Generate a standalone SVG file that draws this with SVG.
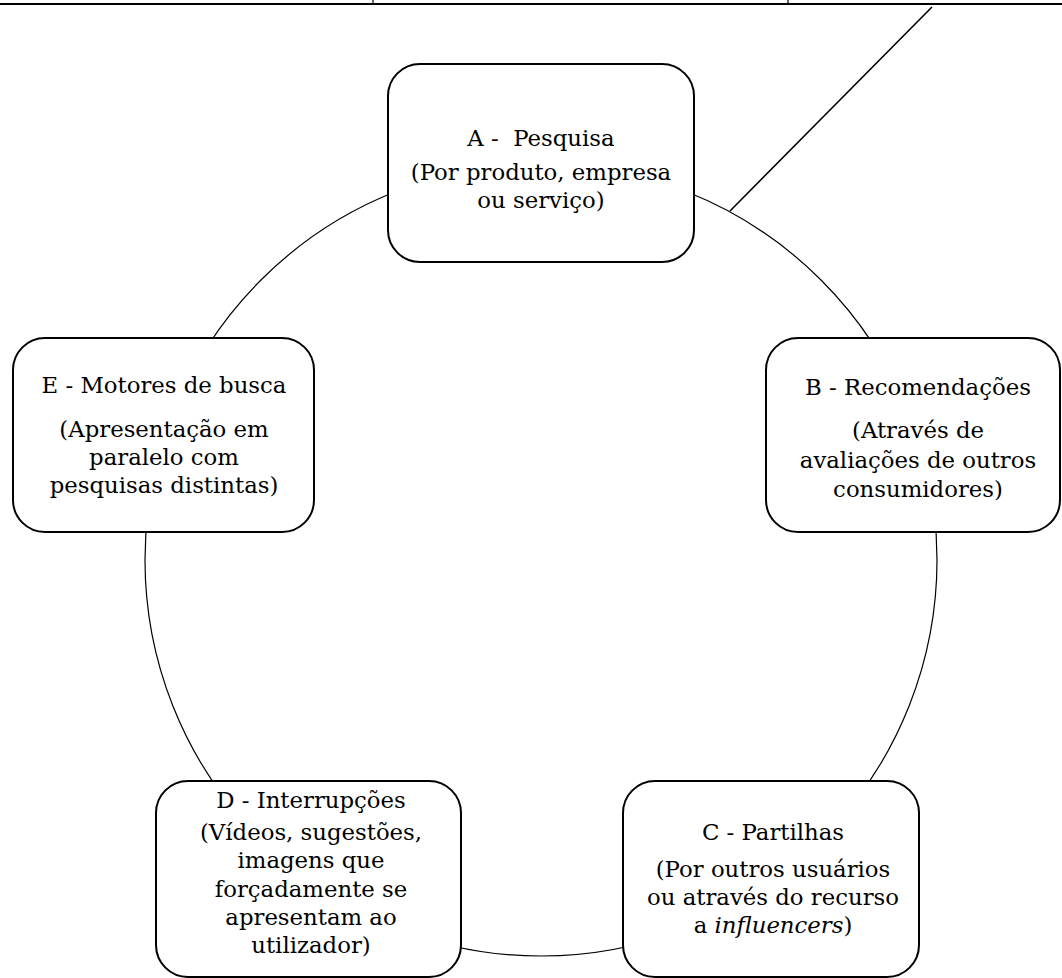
<svg xmlns="http://www.w3.org/2000/svg" width="1062" height="978" viewBox="0 0 1062 978">
<style>
.box{fill:#fff;stroke:#000;stroke-width:2}
.t{font-family:"DejaVu Serif",serif;font-size:22.8px;fill:#000;text-anchor:middle}
.ln{stroke:#000;fill:none}
</style>
<rect width="1062" height="978" fill="#fff"/>
<g id="connectors">
<line class="ln" x1="0" y1="4" x2="1062" y2="4" stroke-width="2"/>
<line class="ln" x1="373" y1="0" x2="373" y2="4" stroke-width="1.2"/>
<line class="ln" x1="788" y1="0" x2="788" y2="4" stroke-width="1.2"/>
<line class="ln" x1="932" y1="7" x2="730" y2="211" stroke-width="1.6"/>
<circle class="ln" cx="541" cy="560" r="396" stroke-width="1.2"/>
</g>
<g id="nodeA">
<rect class="box" x="388" y="64" width="306" height="198" rx="32"/>
<text class="t" x="541" y="146" xml:space="preserve">A -  Pesquisa</text>
<text class="t" x="541" y="180">(Por produto, empresa</text>
<text class="t" x="541" y="208">ou serviço)</text>
</g>
<g id="nodeB">
<rect class="box" x="766" y="338" width="294" height="194" rx="32"/>
<text class="t" x="918" y="395">B - Recomendações</text>
<text class="t" x="918" y="438">(Através de</text>
<text class="t" x="918" y="468">avaliações de outros</text>
<text class="t" x="918" y="497">consumidores)</text>
</g>
<g id="nodeC">
<rect class="box" x="623" y="781" width="296" height="196" rx="32"/>
<text class="t" x="773" y="840">C - Partilhas</text>
<text class="t" x="773" y="877">(Por outros usuários</text>
<text class="t" x="773" y="905">ou através do recurso</text>
<text class="t" x="773" y="933">a <tspan font-style="italic">influencers</tspan>)</text>
</g>
<g id="nodeD">
<rect class="box" x="156" y="781" width="305" height="196" rx="32"/>
<text class="t" x="311" y="808">D - Interrupções</text>
<text class="t" x="311" y="840">(Vídeos, sugestões,</text>
<text class="t" x="311" y="868">imagens que</text>
<text class="t" x="311" y="897">forçadamente se</text>
<text class="t" x="311" y="925">apresentam ao</text>
<text class="t" x="311" y="953">utilizador)</text>
</g>
<g id="nodeE">
<rect class="box" x="13" y="338" width="301" height="194" rx="32"/>
<text class="t" x="164" y="393">E - Motores de busca</text>
<text class="t" x="164" y="437">(Apresentação em</text>
<text class="t" x="164" y="465">paralelo com</text>
<text class="t" x="164" y="493">pesquisas distintas)</text>
</g>
</svg>
